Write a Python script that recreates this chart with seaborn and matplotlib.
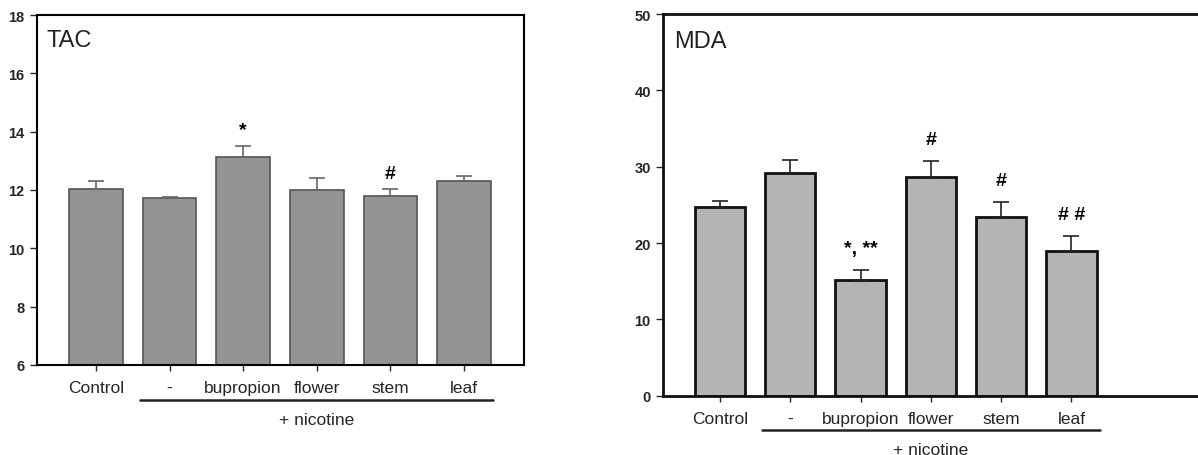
import numpy as np
import pandas as pd
import seaborn as sns
import matplotlib.pyplot as plt
import matplotlib.transforms as mtransforms

# Data
groups = ['Control', '-', 'bupropion', 'flower', 'stem', 'leaf']
tac_mean = [12.02, 11.72, 13.14, 12.00, 11.79, 12.32]
tac_err = [0.30, 0.05, 0.38, 0.42, 0.24, 0.17]
mda_mean = [24.7, 29.2, 15.1, 28.7, 23.4, 18.9]
mda_err = [0.8, 1.7, 1.4, 2.1, 2.0, 2.05]
tac_marks = ['', '', '*', '', '#', '']
mda_marks = ['', '', '*, **', '#', '#', '# #']

sns.set_style('white')
plt.rcParams['font.family'] = ['Liberation Sans', 'DejaVu Sans']

fig = plt.figure(figsize=(11.98, 4.56), dpi=100)
ax1 = fig.add_axes([0.0309, 0.1974, 0.4065, 0.7675])
ax2 = fig.add_axes([0.5537, 0.1300, 0.4463, 0.8371])


def draw_panel(ax, mean, err, marks, face, edge, lw, ecol, title, ylim, yticks,
               xlim, bar_w, mark_gap, line_y, text_y):
    df = pd.DataFrame({'group': groups, 'value': mean})
    sns.barplot(data=df, x='group', y='value', order=groups, color=face,
                saturation=1, edgecolor=edge, linewidth=lw, width=bar_w,
                errorbar=None, ax=ax)
    xs = np.arange(len(groups))
    ax.errorbar(xs, mean, yerr=[np.zeros(len(err)), err], fmt='none',
                ecolor=ecol, elinewidth=1.2, capsize=6, capthick=1.2, zorder=1)
    for x, m, e, t in zip(xs, mean, err, marks):
        if t:
            ax.text(x, m + e + mark_gap, t, ha='center', va='center',
                    fontsize=14, fontweight='bold', color='black')
    ax.set_xlim(*xlim)
    ax.set_ylim(*ylim)
    ax.set_yticks(yticks)
    ax.set_yticklabels([str(v) for v in yticks], fontsize=10.5, fontweight='bold')
    ax.set_xlabel('')
    ax.set_ylabel('')
    ax.tick_params(axis='x', labelsize=12.5, length=4, width=1, direction='out',
                   bottom=True, pad=7)
    ax.tick_params(axis='y', length=5, width=1, direction='out', left=True, pad=4)
    ax.text(0.02, 0.93, title, transform=ax.transAxes, fontsize=17,
            ha='left', va='center', color='#222222')
    # "+ nicotine" group bracket below the axis
    trans = mtransforms.blended_transform_factory(ax.transData, ax.transAxes)
    ax.plot([0.6, 5.4], [line_y, line_y], transform=trans, color='#222222',
            lw=1.8, clip_on=False)
    ax.text(3.0, text_y, '+ nicotine', transform=trans, ha='center', va='center',
            fontsize=12.5)


draw_panel(ax1, tac_mean, tac_err, tac_marks, '#949494', '#555555', 1.2,
           '#666666', 'TAC', (6, 18), [6, 8, 10, 12, 14, 16, 18],
           (-0.80, 5.815), 0.73, 0.55, -0.10, -0.157)
draw_panel(ax2, mda_mean, mda_err, mda_marks, '#b4b4b4', '#111111', 2.0,
           '#222222', 'MDA', (0, 50), [0, 10, 20, 30, 40, 50],
           (-0.806, 6.80), 0.716, 2.8, -0.09, -0.14)

for sp in ax1.spines.values():
    sp.set_color('black')
    sp.set_linewidth(1.5)
for name, sp in ax2.spines.items():
    sp.set_color('#111111')
    sp.set_linewidth(2.0)
ax2.spines['right'].set_visible(False)

fig.savefig('out.png', dpi=100)
